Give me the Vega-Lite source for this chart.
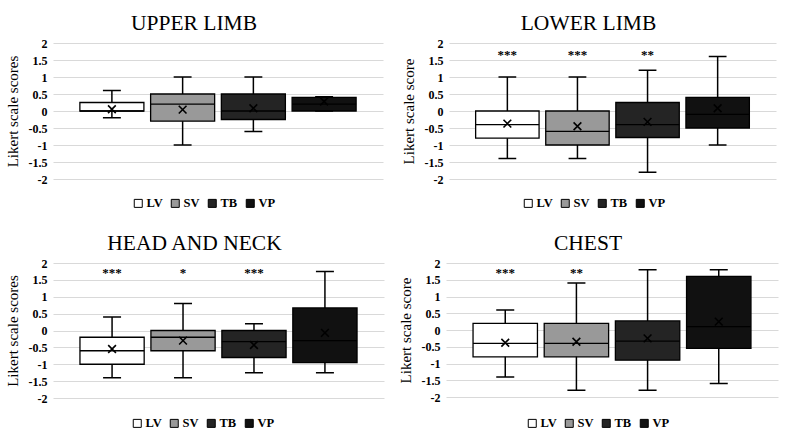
{
  "$schema": "https://vega.github.io/schema/vega-lite/v6.json",
  "background": "white",
  "padding": {"left": 5, "top": 12, "right": 5, "bottom": 5},
  "datasets": {
    "boxes": [
      {"region": "UPPER LIMB", "group": "LV", "min": -0.2, "q1": 0, "median": 0, "q3": 0.25, "max": 0.6, "mean": 0.05},
      {"region": "UPPER LIMB", "group": "SV", "min": -1, "q1": -0.3, "median": 0.2, "q3": 0.5, "max": 1, "mean": 0.04},
      {"region": "UPPER LIMB", "group": "TB", "min": -0.6, "q1": -0.25, "median": 0, "q3": 0.5, "max": 1, "mean": 0.08},
      {"region": "UPPER LIMB", "group": "VP", "min": 0, "q1": 0, "median": 0.2, "q3": 0.4, "max": 0.42, "mean": 0.28},
      {"region": "LOWER LIMB", "group": "LV", "min": -1.4, "q1": -0.8, "median": -0.4, "q3": 0, "max": 1, "mean": -0.37},
      {"region": "LOWER LIMB", "group": "SV", "min": -1.4, "q1": -1, "median": -0.6, "q3": 0, "max": 1, "mean": -0.45},
      {"region": "LOWER LIMB", "group": "TB", "min": -1.8, "q1": -0.78, "median": -0.4, "q3": 0.25, "max": 1.2, "mean": -0.32},
      {"region": "LOWER LIMB", "group": "VP", "min": -1, "q1": -0.5, "median": -0.1, "q3": 0.4, "max": 1.6, "mean": 0.08},
      {"region": "HEAD AND NECK", "group": "LV", "min": -1.4, "q1": -1, "median": -0.6, "q3": -0.2, "max": 0.4, "mean": -0.55},
      {"region": "HEAD AND NECK", "group": "SV", "min": -1.4, "q1": -0.6, "median": -0.2, "q3": 0, "max": 0.8, "mean": -0.3},
      {"region": "HEAD AND NECK", "group": "TB", "min": -1.25, "q1": -0.8, "median": -0.33, "q3": 0, "max": 0.2, "mean": -0.43},
      {"region": "HEAD AND NECK", "group": "VP", "min": -1.25, "q1": -0.95, "median": -0.3, "q3": 0.67, "max": 1.75, "mean": -0.07},
      {"region": "CHEST", "group": "LV", "min": -1.4, "q1": -0.8, "median": -0.4, "q3": 0.2, "max": 0.6, "mean": -0.38},
      {"region": "CHEST", "group": "SV", "min": -1.8, "q1": -0.8, "median": -0.4, "q3": 0.2, "max": 1.4, "mean": -0.35},
      {"region": "CHEST", "group": "TB", "min": -1.8, "q1": -0.9, "median": -0.33, "q3": 0.27, "max": 1.8, "mean": -0.25},
      {"region": "CHEST", "group": "VP", "min": -1.6, "q1": -0.55, "median": 0.1, "q3": 1.6, "max": 1.8, "mean": 0.25}
    ],
    "stars": [
      {"region": "LOWER LIMB", "group": "LV", "label": "***", "y": 1.65},
      {"region": "LOWER LIMB", "group": "SV", "label": "***", "y": 1.65},
      {"region": "LOWER LIMB", "group": "TB", "label": "**", "y": 1.65},
      {"region": "HEAD AND NECK", "group": "LV", "label": "***", "y": 1.7},
      {"region": "HEAD AND NECK", "group": "SV", "label": "*", "y": 1.7},
      {"region": "HEAD AND NECK", "group": "TB", "label": "***", "y": 1.7},
      {"region": "CHEST", "group": "LV", "label": "***", "y": 1.7},
      {"region": "CHEST", "group": "SV", "label": "**", "y": 1.7}
    ]
  },
  "resolve": {"scale": {"fill": "independent", "y": "independent", "x": "independent"}, "legend": {"fill": "independent"}},
  "spacing": 22,
  "vconcat": [
    {
      "resolve": {"scale": {"fill": "independent", "y": "independent", "x": "independent"}, "legend": {"fill": "independent"}},
      "spacing": 18,
      "hconcat": [
        {
          "title": "UPPER LIMB",
          "width": 330, "height": 136,
          "encoding": {"x": {"field": "group", "type": "nominal", "axis": null, "scale": {"domain": ["LV", "SV", "TB", "VP"], "paddingInner": 0.095, "paddingOuter": 0.38}}},
          "layer": [
            {"data": {"name": "boxes"}, "transform": [{"filter": "datum.region === 'UPPER LIMB'"}],
             "mark": {"type": "rule", "color": "black", "strokeWidth": 1.5},
             "encoding": {"y": {"field": "min", "type": "quantitative", "scale": {"domain": [-2, 2], "nice": false}, "title": "Likert scale scores"}, "y2": {"field": "max"}}},
            {"data": {"name": "boxes"}, "transform": [{"filter": "datum.region === 'UPPER LIMB'"}],
             "mark": {"type": "bar", "stroke": "black", "strokeWidth": 1.3, "width": {"band": 1}, "opacity": 1},
             "encoding": {"y": {"field": "q1", "type": "quantitative"}, "y2": {"field": "q3"}, "fill": {"field": "group", "type": "nominal", "scale": {"domain": ["LV", "SV", "TB", "VP"], "range": ["#ffffff", "#999999", "#242424", "#111111"]}, "legend": {"title": null, "orient": "none", "legendX": 79, "legendY": 154}}}},
            {"data": {"name": "boxes"}, "transform": [{"filter": "datum.region === 'UPPER LIMB'"}],
             "mark": {"type": "bar", "stroke": "black", "strokeWidth": 1.3, "fill": null, "width": {"band": 1}},
             "encoding": {"y": {"field": "median", "type": "quantitative"}, "y2": {"field": "median"}}},
            {"data": {"name": "boxes"}, "transform": [{"filter": "datum.region === 'UPPER LIMB'"}],
             "mark": {"type": "bar", "stroke": "black", "strokeWidth": 1.5, "fill": null, "width": {"band": 0.28}},
             "encoding": {"y": {"field": "min", "type": "quantitative"}, "y2": {"field": "min"}}},
            {"data": {"name": "boxes"}, "transform": [{"filter": "datum.region === 'UPPER LIMB'"}],
             "mark": {"type": "bar", "stroke": "black", "strokeWidth": 1.5, "fill": null, "width": {"band": 0.28}},
             "encoding": {"y": {"field": "max", "type": "quantitative"}, "y2": {"field": "max"}}},
            {"data": {"name": "boxes"}, "transform": [{"filter": "datum.region === 'UPPER LIMB'"}],
             "mark": {"type": "point", "shape": "M-1,-1L1,1M-1,1L1,-1", "filled": false, "stroke": "black", "strokeWidth": 1.6, "size": 60, "opacity": 1},
             "encoding": {"y": {"field": "mean", "type": "quantitative"}}}
          ]
        },
        {
          "title": "LOWER LIMB",
          "width": 327, "height": 136,
          "encoding": {"x": {"field": "group", "type": "nominal", "axis": null, "scale": {"domain": ["LV", "SV", "TB", "VP"], "paddingInner": 0.095, "paddingOuter": 0.38}}},
          "layer": [
            {"data": {"name": "boxes"}, "transform": [{"filter": "datum.region === 'LOWER LIMB'"}],
             "mark": {"type": "rule", "color": "black", "strokeWidth": 1.5},
             "encoding": {"y": {"field": "min", "type": "quantitative", "scale": {"domain": [-2, 2], "nice": false}, "title": "Likert scale score"}, "y2": {"field": "max"}}},
            {"data": {"name": "boxes"}, "transform": [{"filter": "datum.region === 'LOWER LIMB'"}],
             "mark": {"type": "bar", "stroke": "black", "strokeWidth": 1.3, "width": {"band": 1}, "opacity": 1},
             "encoding": {"y": {"field": "q1", "type": "quantitative"}, "y2": {"field": "q3"}, "fill": {"field": "group", "type": "nominal", "scale": {"domain": ["LV", "SV", "TB", "VP"], "range": ["#ffffff", "#999999", "#242424", "#111111"]}, "legend": {"title": null, "orient": "none", "legendX": 73, "legendY": 154}}}},
            {"data": {"name": "boxes"}, "transform": [{"filter": "datum.region === 'LOWER LIMB'"}],
             "mark": {"type": "bar", "stroke": "black", "strokeWidth": 1.3, "fill": null, "width": {"band": 1}},
             "encoding": {"y": {"field": "median", "type": "quantitative"}, "y2": {"field": "median"}}},
            {"data": {"name": "boxes"}, "transform": [{"filter": "datum.region === 'LOWER LIMB'"}],
             "mark": {"type": "bar", "stroke": "black", "strokeWidth": 1.5, "fill": null, "width": {"band": 0.28}},
             "encoding": {"y": {"field": "min", "type": "quantitative"}, "y2": {"field": "min"}}},
            {"data": {"name": "boxes"}, "transform": [{"filter": "datum.region === 'LOWER LIMB'"}],
             "mark": {"type": "bar", "stroke": "black", "strokeWidth": 1.5, "fill": null, "width": {"band": 0.28}},
             "encoding": {"y": {"field": "max", "type": "quantitative"}, "y2": {"field": "max"}}},
            {"data": {"name": "boxes"}, "transform": [{"filter": "datum.region === 'LOWER LIMB'"}],
             "mark": {"type": "point", "shape": "M-1,-1L1,1M-1,1L1,-1", "filled": false, "stroke": "black", "strokeWidth": 1.6, "size": 60, "opacity": 1},
             "encoding": {"y": {"field": "mean", "type": "quantitative"}}},
            {"data": {"name": "stars"}, "transform": [{"filter": "datum.region === 'LOWER LIMB'"}],
             "mark": {"type": "text", "fontWeight": "bold", "fontSize": 13, "baseline": "middle", "fill": "black"},
             "encoding": {"y": {"field": "y", "type": "quantitative"}, "text": {"field": "label"}}}
          ]
        }
      ]
    },
    {
      "resolve": {"scale": {"fill": "independent", "y": "independent", "x": "independent"}, "legend": {"fill": "independent"}},
      "spacing": 14,
      "hconcat": [
        {
          "title": "HEAD AND NECK",
          "width": 331, "height": 135,
          "encoding": {"x": {"field": "group", "type": "nominal", "axis": null, "scale": {"domain": ["LV", "SV", "TB", "VP"], "paddingInner": 0.095, "paddingOuter": 0.38}}},
          "layer": [
            {"data": {"name": "boxes"}, "transform": [{"filter": "datum.region === 'HEAD AND NECK'"}],
             "mark": {"type": "rule", "color": "black", "strokeWidth": 1.5},
             "encoding": {"y": {"field": "min", "type": "quantitative", "scale": {"domain": [-2, 2], "nice": false}, "title": "Likert scale scores"}, "y2": {"field": "max"}}},
            {"data": {"name": "boxes"}, "transform": [{"filter": "datum.region === 'HEAD AND NECK'"}],
             "mark": {"type": "bar", "stroke": "black", "strokeWidth": 1.3, "width": {"band": 1}, "opacity": 1},
             "encoding": {"y": {"field": "q1", "type": "quantitative"}, "y2": {"field": "q3"}, "fill": {"field": "group", "type": "nominal", "scale": {"domain": ["LV", "SV", "TB", "VP"], "range": ["#ffffff", "#999999", "#242424", "#111111"]}, "legend": {"title": null, "orient": "none", "legendX": 78, "legendY": 154}}}},
            {"data": {"name": "boxes"}, "transform": [{"filter": "datum.region === 'HEAD AND NECK'"}],
             "mark": {"type": "bar", "stroke": "black", "strokeWidth": 1.3, "fill": null, "width": {"band": 1}},
             "encoding": {"y": {"field": "median", "type": "quantitative"}, "y2": {"field": "median"}}},
            {"data": {"name": "boxes"}, "transform": [{"filter": "datum.region === 'HEAD AND NECK'"}],
             "mark": {"type": "bar", "stroke": "black", "strokeWidth": 1.5, "fill": null, "width": {"band": 0.28}},
             "encoding": {"y": {"field": "min", "type": "quantitative"}, "y2": {"field": "min"}}},
            {"data": {"name": "boxes"}, "transform": [{"filter": "datum.region === 'HEAD AND NECK'"}],
             "mark": {"type": "bar", "stroke": "black", "strokeWidth": 1.5, "fill": null, "width": {"band": 0.28}},
             "encoding": {"y": {"field": "max", "type": "quantitative"}, "y2": {"field": "max"}}},
            {"data": {"name": "boxes"}, "transform": [{"filter": "datum.region === 'HEAD AND NECK'"}],
             "mark": {"type": "point", "shape": "M-1,-1L1,1M-1,1L1,-1", "filled": false, "stroke": "black", "strokeWidth": 1.6, "size": 60, "opacity": 1},
             "encoding": {"y": {"field": "mean", "type": "quantitative"}}},
            {"data": {"name": "stars"}, "transform": [{"filter": "datum.region === 'HEAD AND NECK'"}],
             "mark": {"type": "text", "fontWeight": "bold", "fontSize": 13, "baseline": "middle", "fill": "black"},
             "encoding": {"y": {"field": "y", "type": "quantitative"}, "text": {"field": "label"}}}
          ]
        },
        {
          "title": "CHEST",
          "width": 332, "height": 134,
          "encoding": {"x": {"field": "group", "type": "nominal", "axis": null, "scale": {"domain": ["LV", "SV", "TB", "VP"], "paddingInner": 0.095, "paddingOuter": 0.38}}},
          "layer": [
            {"data": {"name": "boxes"}, "transform": [{"filter": "datum.region === 'CHEST'"}],
             "mark": {"type": "rule", "color": "black", "strokeWidth": 1.5},
             "encoding": {"y": {"field": "min", "type": "quantitative", "scale": {"domain": [-2, 2], "nice": false}, "title": "Likert scale score"}, "y2": {"field": "max"}}},
            {"data": {"name": "boxes"}, "transform": [{"filter": "datum.region === 'CHEST'"}],
             "mark": {"type": "bar", "stroke": "black", "strokeWidth": 1.3, "width": {"band": 1}, "opacity": 1},
             "encoding": {"y": {"field": "q1", "type": "quantitative"}, "y2": {"field": "q3"}, "fill": {"field": "group", "type": "nominal", "scale": {"domain": ["LV", "SV", "TB", "VP"], "range": ["#ffffff", "#999999", "#242424", "#111111"]}, "legend": {"title": null, "orient": "none", "legendX": 80, "legendY": 154}}}},
            {"data": {"name": "boxes"}, "transform": [{"filter": "datum.region === 'CHEST'"}],
             "mark": {"type": "bar", "stroke": "black", "strokeWidth": 1.3, "fill": null, "width": {"band": 1}},
             "encoding": {"y": {"field": "median", "type": "quantitative"}, "y2": {"field": "median"}}},
            {"data": {"name": "boxes"}, "transform": [{"filter": "datum.region === 'CHEST'"}],
             "mark": {"type": "bar", "stroke": "black", "strokeWidth": 1.5, "fill": null, "width": {"band": 0.28}},
             "encoding": {"y": {"field": "min", "type": "quantitative"}, "y2": {"field": "min"}}},
            {"data": {"name": "boxes"}, "transform": [{"filter": "datum.region === 'CHEST'"}],
             "mark": {"type": "bar", "stroke": "black", "strokeWidth": 1.5, "fill": null, "width": {"band": 0.28}},
             "encoding": {"y": {"field": "max", "type": "quantitative"}, "y2": {"field": "max"}}},
            {"data": {"name": "boxes"}, "transform": [{"filter": "datum.region === 'CHEST'"}],
             "mark": {"type": "point", "shape": "M-1,-1L1,1M-1,1L1,-1", "filled": false, "stroke": "black", "strokeWidth": 1.6, "size": 60, "opacity": 1},
             "encoding": {"y": {"field": "mean", "type": "quantitative"}}},
            {"data": {"name": "stars"}, "transform": [{"filter": "datum.region === 'CHEST'"}],
             "mark": {"type": "text", "fontWeight": "bold", "fontSize": 13, "baseline": "middle", "fill": "black"},
             "encoding": {"y": {"field": "y", "type": "quantitative"}, "text": {"field": "label"}}}
          ]
        }
      ]
    }
  ],
  "config": {
    "font": "Liberation Serif",
    "view": {"stroke": null},
    "title": {"font": "Liberation Serif", "fontSize": 21.5, "fontWeight": "normal", "color": "black", "anchor": "middle", "frame": "bounds", "offset": 3},
    "axisY": {"grid": true, "tickCount": 9, "labelExpr": "datum.value + ''", "labelOverlap": false, "gridColor": "#d9d9d9", "gridWidth": 1.2, "domain": false, "ticks": false, "labelFont": "Liberation Serif", "labelFontSize": 12, "labelFontWeight": "bold", "labelColor": "black", "labelPadding": 6, "titleFont": "Liberation Serif", "titleFontSize": 15, "titleFontWeight": "normal", "titleColor": "black", "titlePadding": 8},
    "legend": {"direction": "horizontal", "symbolType": "square", "symbolSize": 64, "symbolStrokeColor": "black", "symbolStrokeWidth": 1, "symbolOpacity": 1, "labelFont": "Liberation Serif", "labelFontSize": 12.5, "labelFontWeight": "bold", "labelColor": "black", "columnPadding": 6, "symbolOffset": 0, "labelOffset": 2, "padding": 0}
  }
}
